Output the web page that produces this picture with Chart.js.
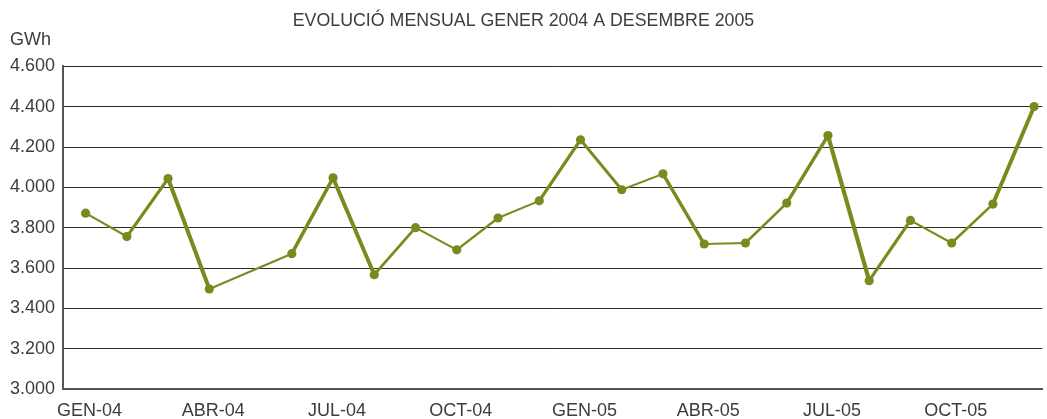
<!DOCTYPE html>
<html>
<head>
<meta charset="utf-8">
<script src="https://cdn.jsdelivr.net/npm/chart.js@4/dist/chart.umd.min.js"></script>
<style>
  html, body { margin: 0; padding: 0; background: #fff; }
  #wrap { width: 1047px; height: 419px; position: relative; }
</style>
</head>
<body>
<div id="wrap"><canvas id="myChart"></canvas></div>
<script>
// monthly consumption, GWh (MAI-04 not reported, the line goes straight past it)
const months = ["GEN-04", "FEB-04", "MAR-04", "ABR-04", "MAI-04", "JUN-04",
  "JUL-04", "AGO-04", "SET-04", "OCT-04", "NOV-04", "DES-04",
  "GEN-05", "FEB-05", "MAR-05", "ABR-05", "MAI-05", "JUN-05",
  "JUL-05", "AGO-05", "SET-05", "OCT-05", "NOV-05", "DES-05"];
const gwh = [3872, 3756, 4044, 3496, null, 3671,
  4047, 3567, 3800, 3690, 3848, 3933,
  4236, 3988, 4067, 3719, 3724, 3922,
  4257, 3537, 3836, 3724, 3917, 4401];
const labelMonths = [0, 3, 6, 9, 12, 15, 18, 21];
const yTicks = [3000, 3200, 3400, 3600, 3800, 4000, 4200, 4400, 4600];

const textColor = "#3d3d3d";
const lineColor = "#7a8a1d";
const fontFamily = "'Liberation Sans', Arial, sans-serif";

// thin when flat, heavier when steep
function segWidth(c) {
  const dx = c.p1.x - c.p0.x;
  const dy = c.p1.y - c.p0.y;
  const len = Math.sqrt(dx * dx + dy * dy) || 1;
  const s = dy / len;
  return 2 + 2.6 * s * s * s * s;
}

const unitLabel = {
  id: "unitLabel",
  afterDraw(chart) {
    const c = chart.ctx;
    c.save();
    c.font = "18px " + fontFamily;
    c.fillStyle = textColor;
    c.textBaseline = "alphabetic";
    c.textAlign = "left";
    c.fillText("GWh", 10, chart.chartArea.top - 21);
    c.restore();
  }
};

// months without a value are left out of the line
const points = gwh
  .map((v, i) => ({ x: i, y: v }))
  .filter(p => p.y !== null);

let ctx = document.getElementById("myChart").getContext("2d");

let chart = new Chart(ctx, {
  type: "line",
  data: {
    datasets: [{
      label: "GWh",
      data: points,
      borderColor: lineColor,
      backgroundColor: lineColor,
      pointBackgroundColor: lineColor,
      pointBorderWidth: 0,
      pointRadius: 4.6,
      borderWidth: 2,
      tension: 0,
      segment: { borderWidth: segWidth }
    }]
  },
  options: {
    responsive: true,
    maintainAspectRatio: false,
    animation: false,
    events: [],
    layout: { padding: 0 },
    plugins: {
      legend: { display: false },
      tooltip: { enabled: false },
      title: {
        display: true,
        text: "EVOLUCIÓ MENSUAL GENER 2004 A DESEMBRE 2005",
        color: textColor,
        font: { family: fontFamily, size: 17.8, weight: "normal" },
        padding: { top: 10, bottom: 35 }
      }
    },
    scales: {
      x: {
        type: "linear",
        min: -0.548,
        max: 23.2,
        afterBuildTicks: (scale) => {
          scale.ticks = labelMonths.map(v => ({ value: v }));
        },
        afterFit: (scale) => { scale.height = 30; },
        grid: { display: false, drawTicks: false },
        border: { display: true, color: "#555", width: 2 },
        ticks: {
          autoSkip: false,
          maxRotation: 0,
          padding: 11,
          labelOffset: 4,
          color: textColor,
          font: { family: fontFamily, size: 18 },
          callback: (v) => months[v]
        }
      },
      y: {
        min: 3000,
        max: 4600,
        afterBuildTicks: (scale) => {
          scale.ticks = yTicks.map(v => ({ value: v }));
        },
        afterFit: (scale) => { scale.width = 63; },
        grid: { color: "#2b2b2b", lineWidth: 1, drawTicks: false },
        border: { display: true, color: "#555", width: 2 },
        ticks: {
          padding: 8,
          color: textColor,
          font: { family: fontFamily, size: 18 },
          callback: (v) => String(v).replace(/\B(?=(\d{3})+(?!\d))/g, ".")
        }
      }
    }
  },
  plugins: [unitLabel]
});
</script>
</body>
</html>
